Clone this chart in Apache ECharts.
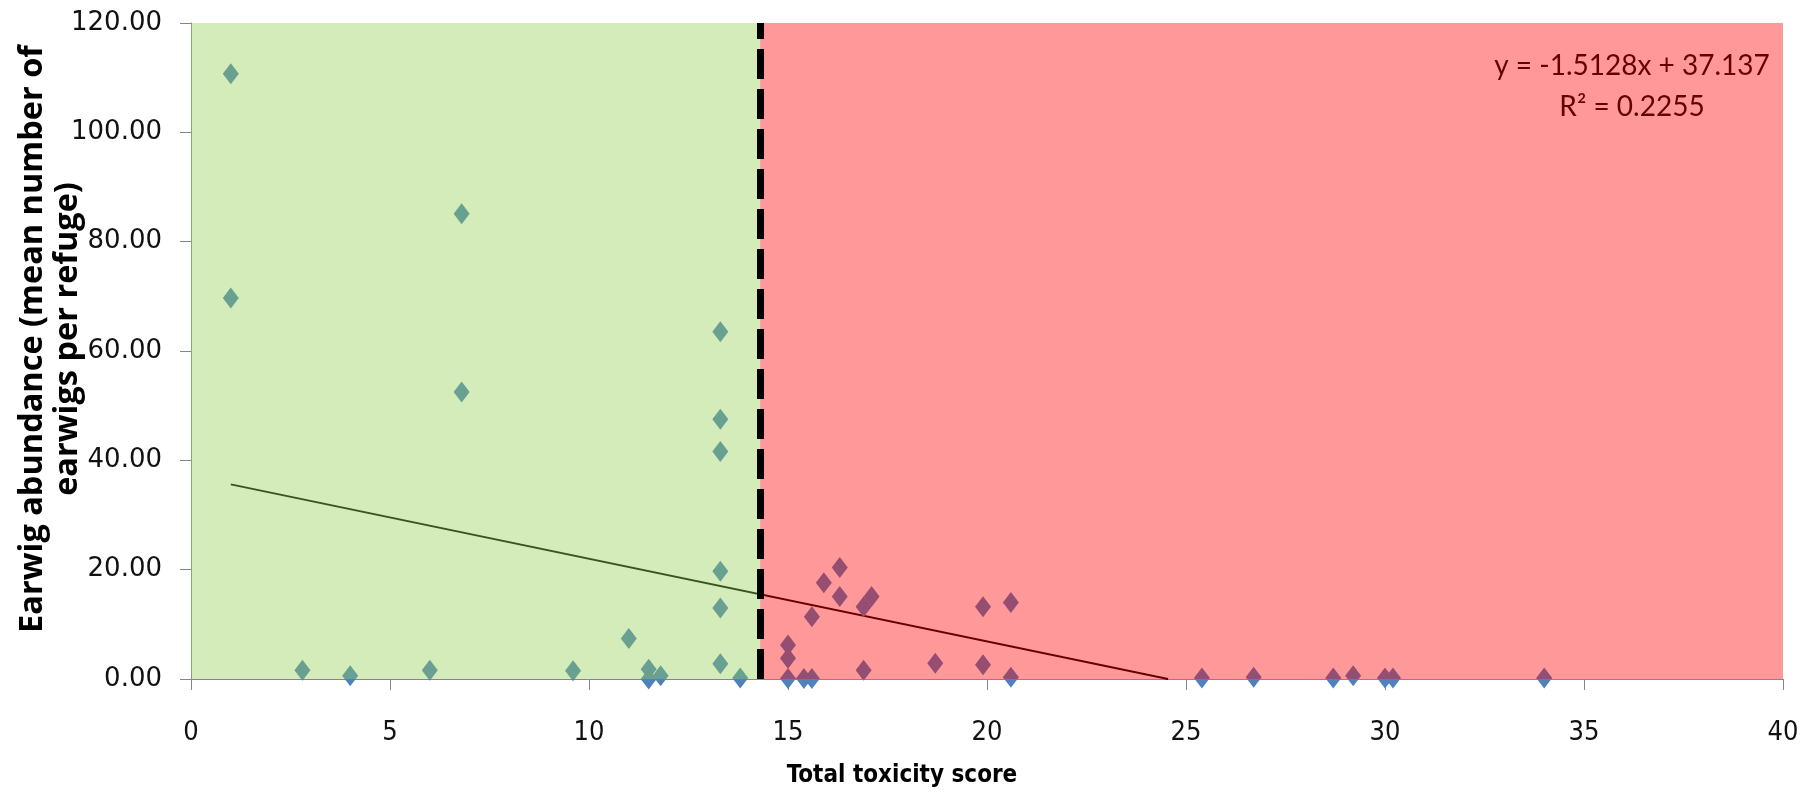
<!DOCTYPE html>
<html><head><meta charset="utf-8">
<script src="https://cdn.jsdelivr.net/npm/echarts@6/dist/echarts.min.js"></script>
<style>html,body{margin:0;padding:0;background:#fff}#c{width:1818px;height:793px}</style>
</head><body><div id="c"></div>
<script>
// Total toxicity score (x) and earwig abundance (y)
const toxicity = [1, 1, 2.8, 4, 6, 6.8, 6.8, 9.6, 11, 11.5, 11.5, 11.8, 13.3, 13.3, 13.3, 13.3, 13.3, 13.3, 13.8,
  15, 15, 15, 15.4, 15.6, 15.6, 15.9, 16.3, 16.3, 16.9, 17.1, 16.9, 18.7, 19.9, 19.9, 20.6, 20.6,
  25.4, 26.7, 28.7, 29.2, 30.0, 30.2, 34.0];
const abundance = [110.7, 69.7, 1.6, 0.6, 1.6, 85.1, 52.5, 1.5, 7.4, 1.8, 0.0, 0.6, 63.5, 47.5, 41.6, 19.7, 13.0, 2.8, 0.2,
  6.2, 3.8, 0.1, 0.1, 0.1, 11.4, 17.6, 20.4, 15.1, 13.2, 15.1, 1.6, 2.9, 13.2, 2.6, 14.0, 0.3,
  0.2, 0.3, 0.2, 0.6, 0.2, 0.2, 0.2];
// Linear trendline end points (Excel fit, clipped at y = 0)
const trendX = [1, 24.55];
const trendY = [35.62, 0];
// Toxicity threshold separating the green and red zones
const threshold = 14.3;
const xMin = 0, xMax = 40, xStep = 5;
const yMin = 0, yMax = 120, yStep = 20;
const equationLines = ['y = -1.5128x + 37.137', 'R\u00B2 = 0.2255'];
const xTitle = 'Total toxicity score';
const yTitle = 'Earwig abundance (mean number of\nearwigs per refuge)';

const points = toxicity.map((x, i) => [x, abundance[i]]);
const trend = trendX.map((x, i) => [x, trendY[i]]);

const narrow = "'Liberation Sans Narrow', 'DejaVu Sans Condensed', Roboto, sans-serif";
const chart = echarts.init(document.getElementById('c'), null, {renderer: 'canvas'});
const axisGray = '#868686';
chart.setOption({
  animation: false,
  backgroundColor: '#ffffff',
  grid: {left: 191, right: 35, top: 23, bottom: 114, containLabel: false, outerBoundsMode: 'none'},
  xAxis: {
    type: 'value', min: xMin, max: xMax, interval: xStep,
    name: xTitle, nameLocation: 'middle', nameGap: 85, nameMoveOverlap: false,
    nameTextStyle: {fontFamily: narrow, fontWeight: 'bold', fontSize: 24, color: '#000',
      padding: [0, 170, 0, 0]},
    axisLine: {show: true, onZero: false, lineStyle: {color: axisGray, width: 1}},
    axisTick: {show: true, inside: false, length: 11, lineStyle: {color: axisGray}},
    axisLabel: {margin: 40, fontFamily: narrow, fontSize: 27, color: '#111'},
    splitLine: {show: false}
  },
  yAxis: {
    type: 'value', min: yMin, max: yMax, interval: yStep,
    name: yTitle, nameLocation: 'middle', nameGap: 106, nameMoveOverlap: false,
    nameTextStyle: {fontFamily: 'Open Sans', fontWeight: 'bold', fontSize: 32.5, lineHeight: 35, color: '#000',
      padding: [0, 0, 0, 24]},
    axisLine: {show: true, lineStyle: {color: axisGray, width: 1}},
    axisTick: {show: true, inside: false, length: 11, lineStyle: {color: axisGray}},
    axisLabel: {margin: 29, fontFamily: 'DejaVu Sans', fontSize: 26, color: '#111',
      formatter: v => v.toFixed(2)},
    splitLine: {show: false}
  },
  series: [
    {
      type: 'scatter', data: points, z: 2,
      symbol: 'diamond', symbolSize: [16, 21],
      itemStyle: {color: '#4F81BD', opacity: 1},
      silent: true
    },
    {
      type: 'line', data: trend, z: 2, showSymbol: false, symbol: 'none',
      lineStyle: {color: '#000000', width: 1.8},
      silent: true,
      markArea: {
        silent: true, z: 5,
        data: [
          [{xAxis: xMin, yAxis: yMin, itemStyle: {color: '#92D050', opacity: 0.4}}, {xAxis: threshold, yAxis: yMax}],
          [{xAxis: threshold, yAxis: yMin, itemStyle: {color: '#FF0000', opacity: 0.4}}, {xAxis: xMax, yAxis: yMax}]
        ]
      },
      markLine: {
        silent: true, z: 6, symbol: ['none', 'none'],
        label: {show: false},
        lineStyle: {color: '#000000', width: 7, type: [30, 10], opacity: 1},
        emphasis: {disabled: true},
        data: [{xAxis: threshold}]
      }
    }
  ],
  graphic: [
    {type: 'text', z: 10, x: 1632, y: 66, style: {text: equationLines[0], fill: '#660000',
      font: '28px Lato', textAlign: 'center', textVerticalAlign: 'middle'}},
    {type: 'text', z: 10, x: 1632, y: 107, style: {text: equationLines[1], fill: '#660000',
      font: '28px Lato', textAlign: 'center', textVerticalAlign: 'middle'}}
  ]
});
</script></body></html>
